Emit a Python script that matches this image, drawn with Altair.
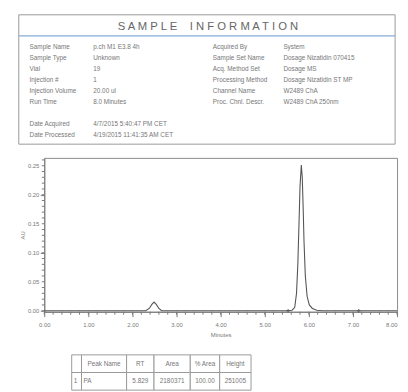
import altair as alt
import pandas as pd

# ---------------- data ----------------
title_text = "S A M P L E\u00a0\u00a0\u00a0\u00a0I N F O R M A T I O N"

left_labels = ["Sample Name", "Sample Type", "Vial", "Injection #", "Injection Volume",
               "Run Time", "Date Acquired", "Date Processed"]
left_values = ["p.ch M1 E3.8 4h", "Unknown", "19", "1", "20.00 ul", "8.0 Minutes",
               "4/7/2015 5:40:47 PM CET", "4/19/2015 11:41:35 AM CET"]
right_labels = ["Acquired By", "Sample Set Name", "Acq. Method Set", "Processing Method",
                "Channel Name", "Proc. Chnl. Descr."]
right_values = ["System", "Dosage Nizatidin 070415", "Dosage MS", "Dosage Nizatidin ST MP",
                "W2489 ChA", "W2489 ChA 250nm"]

# chromatogram (minutes, AU)
time_min = [0.00, 1.00, 2.00, 2.30, 2.38, 2.44, 2.49, 2.54, 2.60, 2.66, 3.00, 4.00, 5.00,
            5.50, 5.62, 5.68, 5.72, 5.75, 5.78, 5.80, 5.829, 5.85, 5.87, 5.89, 5.92,
            5.96, 6.01, 6.08, 6.18, 6.30, 7.00, 8.00]
absorb_au = [0.000, 0.000, 0.000, 0.000, 0.004, 0.011, 0.015, 0.011, 0.004, 0.000, 0.000,
             0.000, 0.000, 0.000, 0.001, 0.006, 0.030, 0.080, 0.160, 0.215, 0.251, 0.230,
             0.180, 0.120, 0.060, 0.025, 0.010, 0.004, 0.001, 0.000, 0.000, 0.000]
marker_time = [5.53, 7.13]
marker_au = [0.0, 0.0]

y_major = [0.00, 0.05, 0.10, 0.15, 0.20, 0.25]
x_major = [0, 1, 2, 3, 4, 5, 6, 7, 8]

table_header = ["", "Peak Name", "RT", "Area", "% Area", "Height"]
table_row = ["1", "PA", "5.829", "2180371", "100.00", "251005"]

# ---------------- layout constants ----------------
GRAY = "#777777"
FONT = "Liberation Sans"
PW = 360          # plot width
PH = 157          # plot height
left_rows = [0, 1, 2, 3, 4, 5, 7, 8]
right_rows = [0, 1, 2, 3, 4, 5]
col_edges = [28, 38, 84, 112, 149, 179, 211]
row_edges = [30, 48, 66]

# ---------------- header panel ----------------
lab_l = pd.DataFrame({"label": left_labels, "value": left_values, "row": left_rows})
lab_r = pd.DataFrame({"label": right_labels, "value": right_values, "row": right_rows})
rowscale = alt.Scale(domain=[0, 8], range=[33, 123])
one = pd.DataFrame({"k": [0]})

box = alt.Chart(one).mark_rect(fillOpacity=0, stroke="#999999", strokeWidth=1).encode(
    x=alt.value(-26), x2=alt.value(358), y=alt.value(0), y2=alt.value(132))
blue = alt.Chart(one).mark_rule(color="#86abd9", strokeWidth=1.5).encode(
    x=alt.value(-26), x2=alt.value(358), y=alt.value(21.5))
ttl = alt.Chart(one).mark_text(text=title_text, font=FONT, fontSize=11.5, color="#666666",
                               align="center", baseline="middle").encode(
    x=alt.value(167), y=alt.value(13))

def txt(df, field, xpos):
    return alt.Chart(df).mark_text(align="left", baseline="middle", font=FONT,
                                   fontSize=6.5, color=GRAY).encode(
        x=alt.value(xpos),
        y=alt.Y("row:Q", scale=rowscale, axis=None),
        text=alt.Text(f"{field}:N"))

header = alt.layer(box, blue, ttl,
                   txt(lab_l, "label", -15), txt(lab_l, "value", 50),
                   txt(lab_r, "label", 172), txt(lab_r, "value", 244)).properties(
    width=PW, height=132, view=alt.ViewBackground(stroke="transparent"))

# ---------------- chromatogram panel ----------------
chrom_df = pd.DataFrame({"t": time_min, "au": absorb_au})
mark_df = pd.DataFrame({"t": marker_time, "au": marker_au})
ymaj_df = pd.DataFrame({"v": y_major})
# minor tick positions (axis decoration)
y_minor = pd.DataFrame({"v": [round(i * 0.01, 2) for i in range(27)]})
x_minor = pd.DataFrame({"v": [round(i * 0.2, 1) for i in range(41)]})

yaxis = alt.Axis(
    values=y_major, labels=False, grid=False, tickSize=4,
    title="AU", titleFontSize=6, titleFontWeight="normal", titleColor=GRAY, titleFont=FONT,
    titlePadding=15, tickColor=GRAY, domainColor=GRAY)
xaxis = alt.Axis(
    values=x_major, format=".2f", labelOverlap=False, grid=False, labelFlush=False,
    tickSize=5,
    labelAlign={"condition": {"test": "datum.value >= 8", "value": "right"}, "value": "center"},
    title="Minutes", titleFontSize=6, titleFontWeight="normal", titleColor=GRAY, titleFont=FONT,
    titlePadding=4, labelFontSize=6, labelColor=GRAY, labelFont=FONT, labelPadding=5,
    tickColor=GRAY, domainColor=GRAY)

xs = alt.Scale(domain=[0, 8], nice=False)
ys = alt.Scale(domain=[-0.0017, 0.2635], nice=False, zero=False)

trace = alt.Chart(chrom_df).mark_line(color="#555555", strokeWidth=1.1).encode(
    x=alt.X("t:Q", scale=xs, axis=xaxis),
    y=alt.Y("au:Q", scale=ys, axis=yaxis))
marks = alt.Chart(mark_df).mark_point(shape="cross", size=12, filled=True, color="#555555").encode(
    x=alt.X("t:Q", scale=xs), y=alt.Y("au:Q", scale=ys))
xminor = alt.Chart(x_minor).mark_rule(color=GRAY, strokeWidth=1).encode(
    x=alt.X("v:Q", scale=xs), y=alt.value(PH), y2=alt.value(PH + 3))
yminor = alt.Chart(y_minor).mark_rule(color=GRAY, strokeWidth=1).encode(
    y=alt.Y("v:Q", scale=ys), x=alt.value(-2.5), x2=alt.value(0))
ylabels = alt.Chart(ymaj_df).mark_text(align="right", baseline="middle", font=FONT,
                                       fontSize=6, color=GRAY).encode(
    y=alt.Y("v:Q", scale=ys), x=alt.value(-5), text=alt.Text("v:Q", format=".2f"))

chrom = alt.layer(trace, marks, xminor, yminor, ylabels).properties(
    width=PW, height=PH, view=alt.ViewBackground(stroke="#8a8a8a"))

# ---------------- table panel ----------------
cells = []
for ri, row in enumerate([table_header, table_row]):
    for ci, val in enumerate(row):
        left_al = ri == 1 and ci < 2
        cells.append({
            "x0": col_edges[ci], "x1": col_edges[ci + 1],
            "y0": row_edges[ri], "y1": row_edges[ri + 1],
            "ym": (row_edges[ri] + row_edges[ri + 1]) / 2,
            "xt": col_edges[ci] + 2 if left_al else (col_edges[ci] + col_edges[ci + 1]) / 2,
            "txt": val, "al": "l" if left_al else "c"})
cells_df = pd.DataFrame(cells)
tx = alt.Scale(domain=[0, PW], range=[0, PW])
ty = alt.Scale(domain=[0, 65], range=[0, 65])

rects = alt.Chart(cells_df).mark_rect(fill="white", stroke="#999999", strokeWidth=1).encode(
    x=alt.X("x0:Q", scale=tx, axis=None), x2="x1:Q",
    y=alt.Y("y0:Q", scale=ty, axis=None), y2="y1:Q")
tc = alt.Chart(cells_df).transform_filter("datum.al == 'c'").mark_text(
    align="center", baseline="middle", font=FONT, fontSize=6.5, color=GRAY).encode(
    x=alt.X("xt:Q", scale=tx, axis=None), y=alt.Y("ym:Q", scale=ty, axis=None), text="txt:N")
tl = alt.Chart(cells_df).transform_filter("datum.al == 'l'").mark_text(
    align="left", baseline="middle", font=FONT, fontSize=6.5, color=GRAY).encode(
    x=alt.X("xt:Q", scale=tx, axis=None), y=alt.Y("ym:Q", scale=ty, axis=None), text="txt:N")

table = alt.layer(rects, tc, tl).properties(
    width=PW, height=65, view=alt.ViewBackground(stroke="transparent"))

chart = alt.vconcat(header, chrom, table, spacing=14, bounds="flush").properties(
    padding={"left": 9, "top": 2, "right": 0, "bottom": 0},
    background="white")

chart.save("out.html", embed_options={"renderer": "svg", "actions": False})
